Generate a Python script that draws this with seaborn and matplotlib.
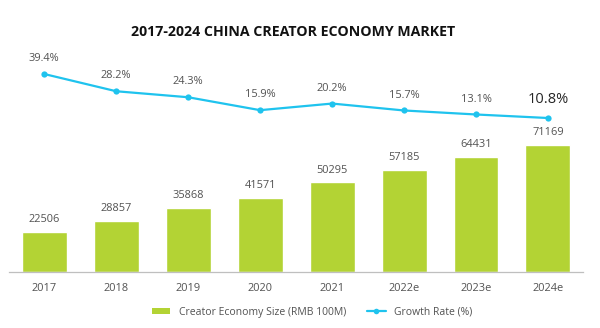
import matplotlib
matplotlib.use("Agg")
import matplotlib.pyplot as plt
import seaborn as sns
import numpy as np
import pandas as pd
from matplotlib.patches import Patch
from matplotlib.lines import Line2D

years = ["2017", "2018", "2019", "2020", "2021", "2022e", "2023e", "2024e"]
size_values = [22506, 28857, 35868, 41571, 50295, 57185, 64431, 71169]
growth_values = [39.4, 28.2, 24.3, 15.9, 20.2, 15.7, 13.1, 10.8]
growth_labels = ["39.4%", "28.2%", "24.3%", "15.9%", "20.2%", "15.7%", "13.1%", "10.8%"]

title = "2017-2024 CHINA CREATOR ECONOMY MARKET"
bar_name = "Creator Economy Size (RMB 100M)"
line_name = "Growth Rate (%)"

GREEN = "#B3D334"
CYAN = "#1FC3EE"
GRAY = "#525252"

sns.set_theme(style="white")
plt.rcParams["font.family"] = ["Open Sans", "DejaVu Sans"]

df = pd.DataFrame({"year": years, "size": size_values, "growth": growth_values})

fig = plt.figure(figsize=(6.0, 3.28), dpi=100)
ax = fig.add_axes([0.015, 0.1707, 0.957, 0.6768])

sns.barplot(data=df, x="year", y="size", color=GREEN, width=0.625,
            saturation=1, ax=ax, order=years)
ax.set_xlim(-0.49, 7.49)
ax.set_ylim(0, 124405)
for i, v in enumerate(size_values):
    ax.annotate(f"{v}", (i, v), xytext=(0, 8.8), textcoords="offset points",
                ha="center", va="center", fontsize=7.9, color=GRAY)

ax.set_xlabel("")
ax.set_ylabel("")
ax.set_yticks([])
ax.tick_params(axis="x", length=0, labelsize=7.9, labelcolor=GRAY, pad=8)
for s in ["top", "right", "left"]:
    ax.spines[s].set_visible(False)
ax.spines["bottom"].set_color("#BFBFBF")
ax.spines["bottom"].set_linewidth(0.9)

ax2 = ax.twinx()
xs = np.arange(len(years))
sns.lineplot(x=xs, y=growth_values, ax=ax2, color=CYAN, linewidth=1.6,
             marker="o", markersize=4.5, markeredgewidth=0, markerfacecolor=CYAN)
ax2.set_ylim(-89.3, 55.0)
ax2.set_yticks([])
for s in ["top", "right", "left", "bottom"]:
    ax2.spines[s].set_visible(False)
for i, (v, lab) in enumerate(zip(growth_values, growth_labels)):
    if i == len(growth_values) - 1:
        ax2.annotate(lab, (i, v), xytext=(0, 13), textcoords="offset points",
                     ha="center", va="center", fontsize=10.5, color="#262626")
    else:
        ax2.annotate(lab, (i, v), xytext=(0, 11), textcoords="offset points",
                     ha="center", va="center", fontsize=7.9, color=GRAY)

fig.text(0.488, 1 - 32 / 328, title, ha="center", va="center",
         fontsize=10.2, fontweight="bold", color="#111111")

handles = [Patch(facecolor=GREEN, edgecolor="none"),
           Line2D([0], [0], color=CYAN, linewidth=1.6, marker="o",
                  markersize=4, markeredgewidth=0)]
fig.legend(handles, [bar_name, line_name], loc="center",
           bbox_to_anchor=(0.52, 1 - 312 / 328), ncol=2, frameon=False,
           fontsize=7.5, labelcolor=GRAY, handlelength=1.8, handleheight=0.5,
           columnspacing=2.0, handletextpad=0.8)

fig.savefig("out.png", dpi=100, facecolor="white")
